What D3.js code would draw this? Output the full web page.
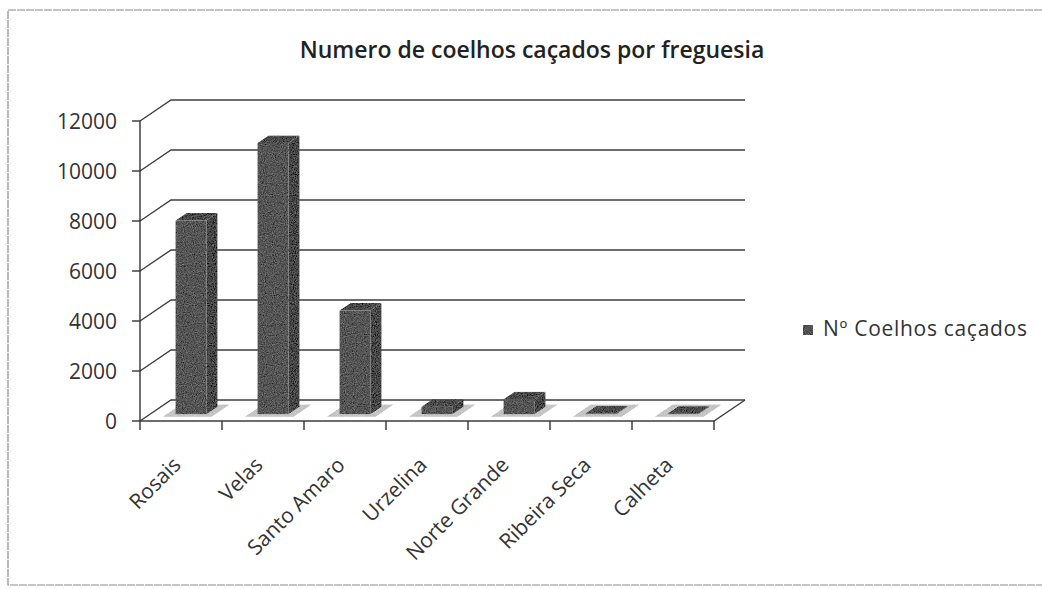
<!DOCTYPE html>
<html>
<head>
<meta charset="utf-8">
<script src="https://cdn.jsdelivr.net/npm/d3@7"></script>
<style>
  body { margin: 0; background: #fff; }
  text { font-family: "Open Sans", sans-serif; fill: #333; }
</style>
</head>
<body>
<div id="chart"></div>
<script>
const categories = ['Rosais', 'Velas', 'Santo Amaro', 'Urzelina', 'Norte Grande', 'Ribeira Seca', 'Calheta'];
const values = [7750, 10850, 4150, 300, 600, 30, 20];
const yTicks = [0, 2000, 4000, 6000, 8000, 10000, 12000];
const seriesName = 'Nº Coelhos caçados';
const title = 'Numero de coelhos caçados por freguesia';

const width = 1042, height = 590;
// 3d geometry: floor front edge and depth offset
const x0 = 140, x1 = 714, baseY = 421;
const DX = 31, DY = 21;

const svg = d3.select('#chart').append('svg')
  .attr('width', width)
  .attr('height', height);

// grainy look of the printed bars
const filter = svg.append('defs').append('filter').attr('id', 'grain')
  .attr('x', 0).attr('y', 0).attr('width', 1).attr('height', 1);
filter.append('feTurbulence').attr('type', 'fractalNoise').attr('baseFrequency', 0.9)
  .attr('numOctaves', 2).attr('seed', 4).attr('result', 'n');
filter.append('feColorMatrix').attr('in', 'n').attr('type', 'saturate').attr('values', 0).attr('result', 'g');
filter.append('feComposite').attr('in', 'g').attr('in2', 'SourceGraphic').attr('operator', 'arithmetic')
  .attr('k1', 0).attr('k2', 0.45).attr('k3', 1).attr('k4', -0.06).attr('result', 'mix');
filter.append('feComposite').attr('in', 'mix').attr('in2', 'SourceGraphic').attr('operator', 'in');

// chart border
svg.append('path')
  .attr('d', 'M1042,10 L8,10 L8,585 L1042,585')
  .attr('fill', 'none')
  .attr('stroke', '#8a8a8a')
  .attr('stroke-width', 1.2)
  .attr('stroke-dasharray', '8,1');

svg.append('text')
  .attr('x', 532).attr('y', 58)
  .attr('text-anchor', 'middle')
  .style('font-size', '23px')
  .style('font-weight', 600)
  .style('fill', '#222')
  .text(title);

const x = d3.scaleBand().domain(categories).range([x0, x1]);
const y = d3.scaleLinear().domain([0, 12000]).range([0, 300]);

// project (px along floor, value, depth fraction) to screen
const proj = (px, v, f) => [px + f * DX, baseY - y(v) - f * DY];
const line = d3.line();

// walls: left diagonals + back gridlines
const grid = svg.append('g')
  .attr('fill', 'none')
  .attr('stroke', '#3e3e3e')
  .attr('stroke-width', 1.4);
yTicks.forEach((t) => {
  grid.append('path').attr('d', line([proj(x0, t, 0), proj(x0, t, 1), [x1 + DX, proj(x0, t, 1)[1]]]));
});
// floor right and front edges
grid.append('path').attr('d', line([proj(x0, 0, 0), proj(x1, 0, 0), proj(x1, 0, 1)]));

// axes
const axisG = svg.append('g').attr('stroke', '#333').attr('stroke-width', 1.4).attr('fill', 'none');
axisG.append('path').attr('d', line([proj(x0, 0, 0), proj(x0, 12000, 0)]));
yTicks.forEach((t) => {
  const [px, py] = proj(x0, t, 0);
  axisG.append('path').attr('d', line([[px - 8, py], [px, py]]));
});
d3.range(categories.length + 1).forEach((i) => {
  const px = x0 + i * x.bandwidth();
  axisG.append('path').attr('d', line([[px, baseY], [px, baseY + 9]]));
});

svg.append('g').selectAll('text')
  .data(yTicks).enter().append('text')
  .attr('x', 117)
  .attr('y', (d) => proj(x0, d, 0)[1] + 8)
  .attr('text-anchor', 'end')
  .style('font-size', '21px')
  .text((d) => d);

// bars
const fFront = 0.32, fBack = 0.68, barW = 31;
const barsG = svg.append('g');
categories.forEach((c, i) => {
  const v = values[i];
  const cx = x(c) + x.bandwidth() / 2;
  const l = cx - barW / 2, r = cx + barW / 2;
  // base shadow
  barsG.append('path')
    .attr('d', line([proj(l - 9, 0, fFront - 0.12), proj(r + 9, 0, fFront - 0.12), proj(r + 9, 0, fBack + 0.1), proj(l - 9, 0, fBack + 0.1)]) + 'Z')
    .attr('fill', '#a8a8a8').attr('opacity', 0.75)
    .attr('filter', 'url(#grain)');
  const bar = barsG.append('g').attr('filter', 'url(#grain)');
  // right side
  bar.append('path')
    .attr('d', line([proj(r, 0, fFront), proj(r, 0, fBack), proj(r, v, fBack), proj(r, v, fFront)]) + 'Z')
    .attr('fill', '#1a1a1a');
  // front
  bar.append('path')
    .attr('d', line([proj(l, 0, fFront), proj(r, 0, fFront), proj(r, v, fFront), proj(l, v, fFront)]) + 'Z')
    .attr('fill', '#383838');
  // top
  bar.append('path')
    .attr('d', line([proj(l, v, fFront), proj(r, v, fFront), proj(r, v, fBack), proj(l, v, fBack)]) + 'Z')
    .attr('fill', '#242424');
});

// category labels
svg.append('g').selectAll('text')
  .data(categories).enter().append('text')
  .attr('transform', (d) => `translate(${x(d) + x.bandwidth() / 2 - 4},${baseY + 40}) rotate(-45)`)
  .attr('text-anchor', 'end')
  .attr('dy', '0.35em')
  .style('font-size', '21px')
  .text((d) => d);

// legend
svg.append('rect').attr('x', 803).attr('y', 325).attr('width', 10).attr('height', 10)
  .attr('fill', '#333').attr('filter', 'url(#grain)');
svg.append('text').attr('x', 823).attr('y', 336)
  .style('font-size', '21px')
  .style('letter-spacing', '0.7px')
  .text(seriesName);
</script>
</body>
</html>
